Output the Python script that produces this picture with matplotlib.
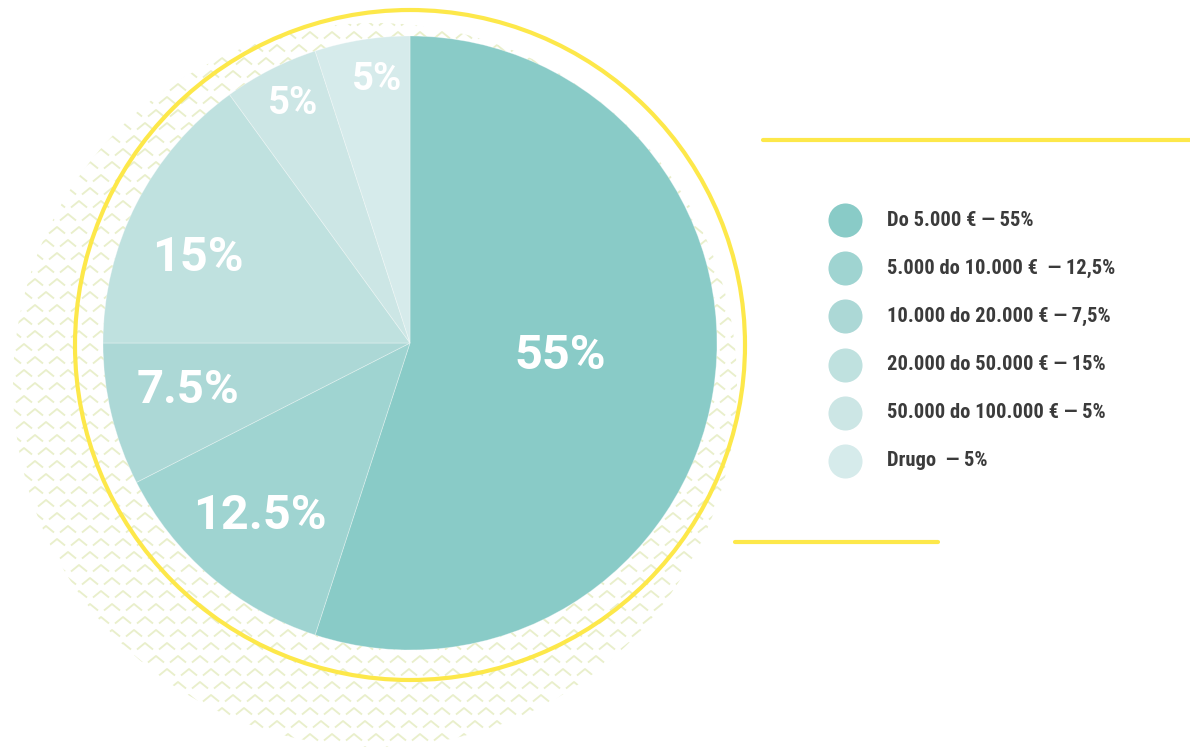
import numpy as np
import matplotlib; matplotlib.use("Agg"); import matplotlib.pyplot as plt
from matplotlib.patches import Circle
from matplotlib.collections import LineCollection

# data
shares = [55, 12.5, 7.5, 15, 5, 5]
slice_labels = ["55%", "12.5%", "7.5%", "15%", "5%", "5%"]
legend_labels = ["Do 5.000 € — 55%", "5.000 do 10.000 €  — 12,5%", "10.000 do 20.000 € — 7,5%",
                 "20.000 do 50.000 € — 15%", "50.000 do 100.000 € — 5%", "Drugo  — 5%"]
colors = ["#89cbc7", "#9fd4d1", "#acd8d6", "#bfe1df", "#cce6e5", "#d6ebeb"]

W, H = 1190, 747
YEL = "#fde84a"; PAT = "#e9efcb"
FONT = ["Roboto", "DejaVu Sans"]
LEGFONT = ["Roboto Condensed", "Roboto", "DejaVu Sans"]

fig = plt.figure(figsize=(W / 100, H / 100), dpi=100)
ax = fig.add_axes([0, 0, 1, 1])

# chevron background pattern, clipped to an offset circle
pc = Circle((375, H - 385), 362, transform=ax.transData, fc="none", ec="none")
ax.add_patch(pc)
segs = []
for r, yy in enumerate(np.arange(H + 20, -20, -13.0)):
    off = 11 * (r % 2)
    for xx in np.arange(-20 + off, 800, 22.0):
        segs.append([(xx - 8, yy - 6.5), (xx, yy), (xx + 8, yy - 6.5)])
lc = LineCollection(segs, colors=PAT, linewidths=1.35, zorder=1)
ax.add_collection(lc); lc.set_clip_path(pc)

# pie
cx, cy, R = 410, H - 343, 307
wedges, _ = ax.pie(shares, colors=colors, startangle=90, counterclock=False,
                   center=(cx, cy), radius=R, frame=True,
                   wedgeprops=dict(edgecolor=(1, 1, 1, 0.35), linewidth=0.6, zorder=3))
ax.set_xlim(0, W); ax.set_ylim(0, H); ax.axis("off")

# label centres (px from top-left) and sizes
label_xy = [(560, 356), (260, 516), (188, 390), (198, 258), (293, 104), (377, 80)]
sizes = [35, 35, 34, 35, 27.5, 27.5]
for lab, (x, y), s in zip(slice_labels, label_xy, sizes):
    ax.text(x, H - y, lab, color="white", fontsize=s, fontweight="bold", family=FONT,
            ha="center", va="center", zorder=5)

# yellow ring
ax.add_patch(Circle((410, H - 345), 335, fc="none", ec=YEL, lw=3.0, zorder=4))

# yellow rules
ax.plot([763, W + 5], [H - 140, H - 140], color=YEL, lw=3.0, solid_capstyle="round")
ax.plot([735, 938], [H - 542, H - 542], color=YEL, lw=3.0, solid_capstyle="round")

# legend
for i, (lab, c) in enumerate(zip(legend_labels, colors)):
    y = H - (220 + 48.2 * i)
    ax.scatter([845], [y], s=34 ** 2 * 0.52, color=c, zorder=5, linewidths=0)
    ax.text(887, y, lab, fontsize=14.8, fontweight="bold", family=LEGFONT,
            color="#3b3b3b", ha="left", va="center")

fig.savefig("out.png", dpi=100)
